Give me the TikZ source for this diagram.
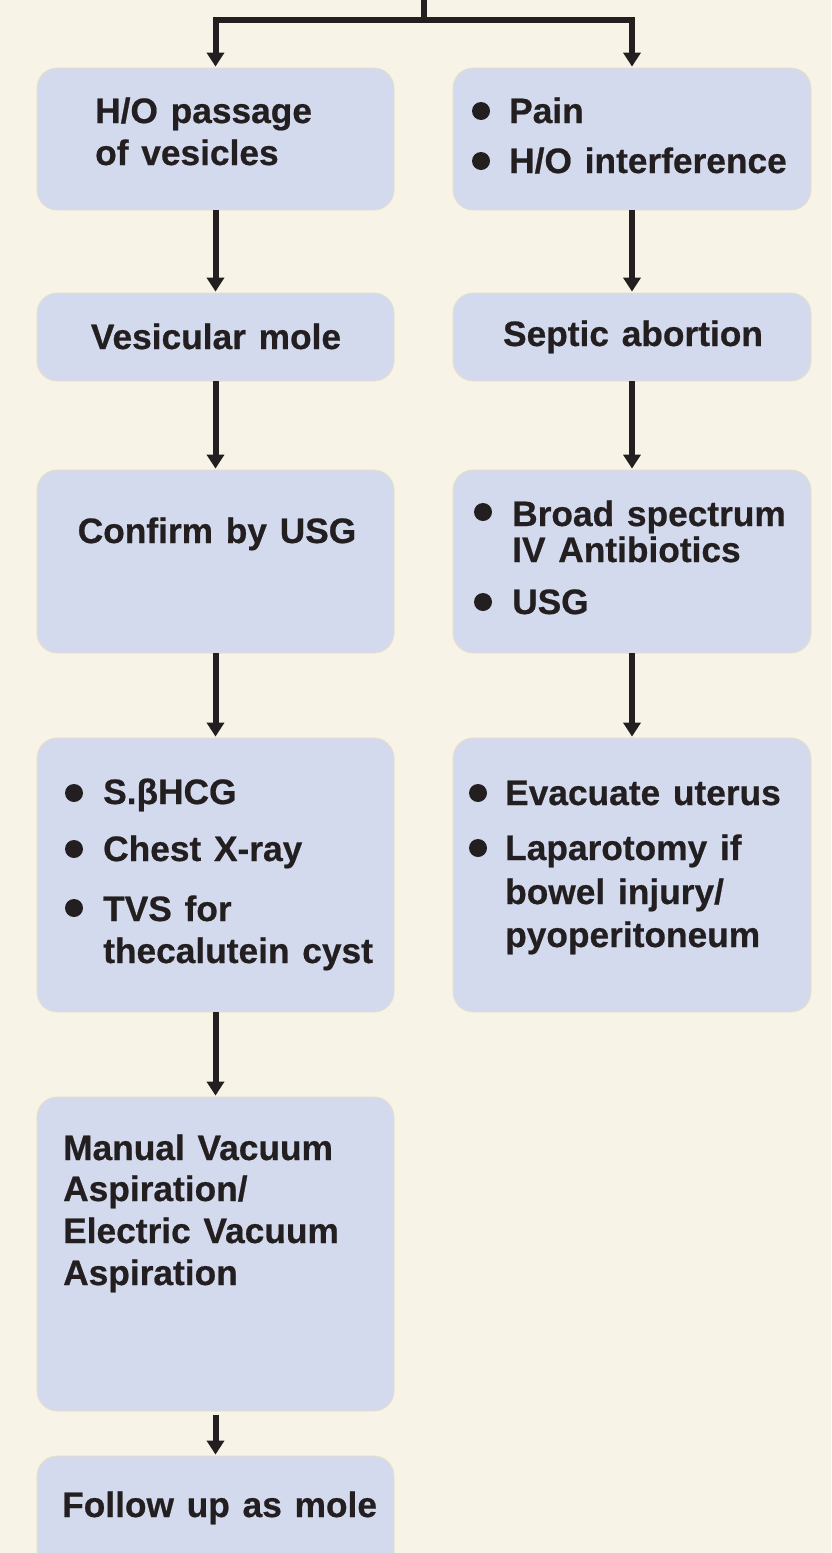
\documentclass[tikz,border=0pt]{standalone}
\usepackage{fontspec}
\setmainfont{Liberation Sans}[WordSpace=1.3, BoldFeatures={FakeBold=0.6}]
\usetikzlibrary{arrows.meta}
\definecolor{bg}{HTML}{F7F3E7}
\definecolor{boxfill}{HTML}{D4DAED}
\definecolor{boxline}{HTML}{EADFC8}
\definecolor{ink}{HTML}{231F20}
\tikzset{
  box/.style={draw=boxline, line width=0.8pt, fill=boxfill, rounded corners=20pt, inner sep=0pt},
  txt/.style={anchor=base west, inner sep=0pt, text=ink, font=\fontsize{35.3}{42}\selectfont\bfseries},
  ctxt/.style={txt, anchor=base},
  conn/.style={draw=ink, line width=6pt, line join=miter},
  arr/.style={conn, -{Triangle[length=14pt,width=17pt]}, shorten >=1pt},
  bul/.style={fill=ink}
}
\begin{document}
\begin{tikzpicture}[x=1pt,y=-1pt]
\useasboundingbox (0,0) rectangle (831,1553);
\clip (0,0) rectangle (831,1553);
\fill[bg] (0,0) rectangle (831,1553);
% boxes
\node[box, minimum width=357pt, minimum height=142pt] (b1L) at (215.5,139) {};
\node[box, minimum width=358pt, minimum height=142pt] (b1R) at (632,139) {};
\node[box, minimum width=357pt, minimum height=88pt] (b2L) at (215.5,337) {};
\node[box, minimum width=358pt, minimum height=88pt] (b2R) at (632,337) {};
\node[box, minimum width=357pt, minimum height=183pt] (b3L) at (215.5,561.5) {};
\node[box, minimum width=358pt, minimum height=183pt] (b3R) at (632,561.5) {};
\node[box, minimum width=357pt, minimum height=274pt] (b4L) at (215.5,875) {};
\node[box, minimum width=358pt, minimum height=274pt] (b4R) at (632,875) {};
\node[box, minimum width=357pt, minimum height=314pt] (b5) at (215.5,1254) {};
\node[box, minimum width=357pt, minimum height=140pt] (b6) at (215.5,1526) {};
% connectors
\coordinate (top) at (424,-2);
\coordinate (junc) at (424,20);
\draw[conn] (top) -- (junc);
\draw[arr] (junc) -| (b1L.north);
\draw[arr] (junc) -| (b1R.north);
\draw[arr] (b1L) -- (b2L);
\draw[arr] (b1R) -- (b2R);
\draw[arr] (b2L) -- (b3L);
\draw[arr] (b2R) -- (b3R);
\draw[arr] (b3L) -- (b4L);
\draw[arr] (b3R) -- (b4R);
\draw[arr] (b4L) -- (b5);
\draw[arr] (b5.south) ++(0,4) coordinate (b5s) (b5s) -- (b6.north);
% texts box 1
\node[txt] (t1a) at (95,123) {H/O passage};
\node[txt] (t1b) at (95,165) {of vesicles};
\fill[bul] (481,111) circle (9pt);
\fill[bul] (481,161) circle (9pt);
\node[txt] (t1c) at (509,123) {Pain};
\node[txt] (t1d) at (509,173) {H/O interference};
% box 2
\node[ctxt] (t2a) at (216,349) {Vesicular mole};
\node[ctxt] (t2b) at (633,346) {Septic abortion};
% box 3
\node[ctxt] (t3a) at (217,543) {Confirm by USG};
\fill[bul] (483,512) circle (9pt);
\fill[bul] (483,602) circle (9pt);
\node[txt] (t3b) at (512,526) {Broad spectrum};
\node[txt] (t3c) at (512,562) {IV Antibiotics};
\node[txt] (t3d) at (512,614) {USG};
% box 4
\fill[bul] (74,793) circle (9pt);
\fill[bul] (74,849) circle (9pt);
\fill[bul] (74,908) circle (9pt);
\node[txt] (t4a) at (103,804) {S.βHCG};
\node[txt] (t4b) at (103,861) {Chest X-ray};
\node[txt] (t4c) at (103,921) {TVS for};
\node[txt] (t4d) at (103,963) {thecalutein cyst};
\fill[bul] (478,793) circle (9pt);
\fill[bul] (478,848) circle (9pt);
\node[txt] (t4e) at (505,805) {Evacuate uterus};
\node[txt] (t4f) at (505,860) {Laparotomy if};
\node[txt] (t4g) at (505,904) {bowel injury/};
\node[txt] (t4h) at (505,947) {pyoperitoneum};
% box 5
\node[txt] (t5a) at (63,1160) {Manual Vacuum};
\node[txt] (t5b) at (63,1201) {Aspiration/};
\node[txt] (t5c) at (63,1243) {Electric Vacuum};
\node[txt] (t5d) at (63,1285) {Aspiration};
% box 6
\node[txt] (t6) at (62,1517) {Follow up as mole};
\end{tikzpicture}
\end{document}
